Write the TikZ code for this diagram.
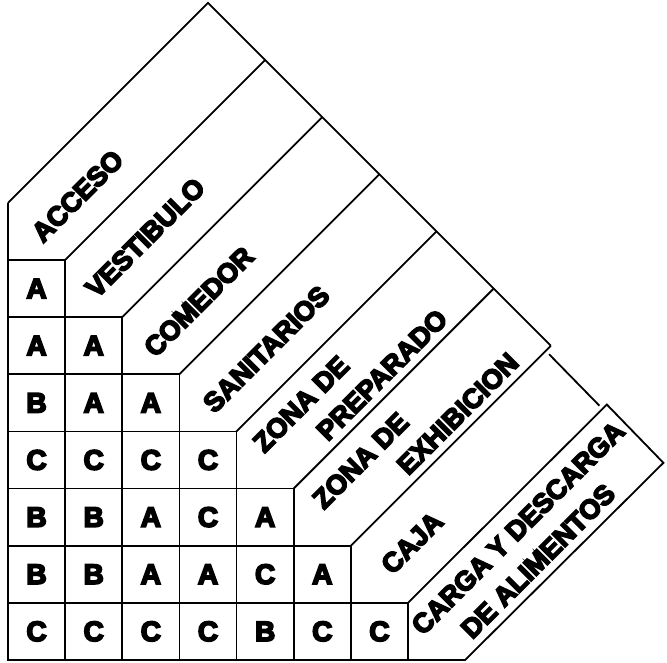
\documentclass[tikz,border=0pt]{standalone}
\usepackage{fontspec}
\newfontfamily\heavy{Liberation Sans Bold}[FakeBold=6]
\begin{document}
\begin{tikzpicture}[x=1cm,y=1cm,
  line width=0.9pt, line join=miter,
  cell/.style={draw, line width=0.9pt, minimum size=1cm, inner sep=0pt, font=\heavy\fontsize{14}{14}\selectfont},
  band/.style={rotate=45, inner sep=0pt, font=\heavy\fontsize{13.5}{13.5}\selectfont},
  edge/.style={line width=0.9pt}]
\useasboundingbox (-0.14,-0.0525) rectangle (11.533,11.55);
% matrix cells
\foreach \r/\row in {1/{A},2/{A,A},3/{B,A,A},4/{C,C,C,C},5/{B,B,A,C,A},6/{B,B,A,A,C,A},7/{C,C,C,C,B,C,C}}{
  \foreach \v [count=\c from 0] in \row {
    \node[cell] (c-\r-\c) at (\c+0.5, 7.5-\r) {\v};
  }
}
% staircase corners and band ends
\foreach \k in {0,...,8} { \coordinate (k\k) at (\k, 8-\k); }
\foreach \k in {1,...,6} { \coordinate (e\k) at (\k+3.5, 11.5-\k); }
\coordinate (apex) at (3.5,11.5);
\coordinate (o0) at (0,0);
\coordinate (cajaA) at (9.47,5.35);
\coordinate (cajaB) at (10.35,4.45);
\coordinate (cargaT) at (10.48,4.47);
\coordinate (cargaR) at (11.47,3.45);
% outline
\draw[edge] (k0) -- (0,7);
\draw[edge] (k0) -- (apex) -- (e6);
\foreach \k in {1,...,6} { \draw[edge] (k\k) -- (e\k); }
\draw[edge] (cajaA) -- (cajaB);
\draw[edge] (k7) -- (cargaT) -- (cargaR) -- (k8) -- (o0);
% band labels
\node[band] (acceso) at (1.216,8.12) {ACCESO};
\node[band] (vestibulo) at (2.40,7.39) {VESTIBULO};
\node[band] (comedor) at (3.34,6.27) {COMEDOR};
\node[band] (sanitarios) at (4.52,5.44) {SANITARIOS};
\node[band] (zona1) at (5.128,4.48) {ZONA DE};
\node[band] (preparado) at (6.545,4.99) {PREPARADO};
\node[band] (zona2) at (6.17,3.49) {ZONA DE};
\node[band] (exhibicion) at (7.87,4.31) {EXHIBICION};
\node[band] (caja) at (7.07,2.05) {CAJA};
\node[band] (carga) at (8.925,2.31) {CARGA Y DESCARGA};
\node[band] (alimentos) at (9.275,1.73) {DE ALIMENTOS};
\end{tikzpicture}
\end{document}
